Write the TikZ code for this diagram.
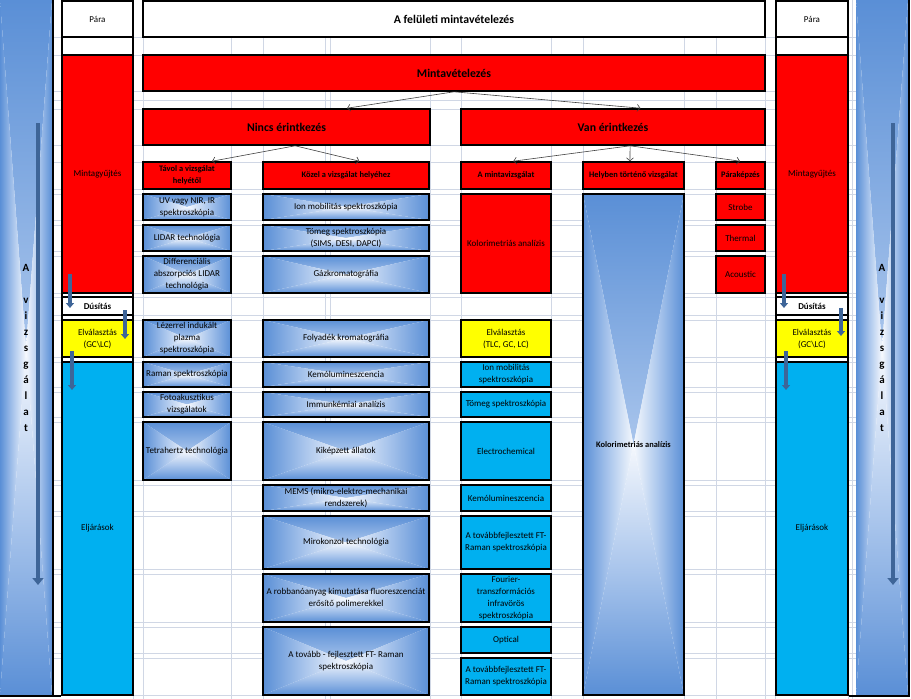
\documentclass[tikz,border=0pt]{standalone}
\usepackage{fontspec}
\setmainfont{Carlito}
\usetikzlibrary{arrows.meta,calc}

\definecolor{xred}{HTML}{FF0000}
\definecolor{xyellow}{HTML}{FFFF00}
\definecolor{xcyan}{HTML}{00B0F0}
\definecolor{gblue}{HTML}{5A8FD6}
\definecolor{gwhite}{HTML}{F5F8FD}
\definecolor{gmid}{HTML}{A9C5EC}
\definecolor{gridc}{HTML}{D0D7E5}
\definecolor{arrowc}{HTML}{3E6598}

% four unrotated shadings for the blue cells
\pgfdeclareverticalshading{gtop}{100bp}{color(0bp)=(gwhite); color(25bp)=(gwhite); color(50bp)=(gmid); color(75bp)=(gblue); color(100bp)=(gblue)}
\pgfdeclareverticalshading{gbot}{100bp}{color(0bp)=(gblue); color(25bp)=(gblue); color(50bp)=(gmid); color(75bp)=(gwhite); color(100bp)=(gwhite)}
\pgfdeclarehorizontalshading{gleft}{100bp}{color(0bp)=(gblue); color(25bp)=(gblue); color(50bp)=(gmid); color(75bp)=(gwhite); color(100bp)=(gwhite)}
\pgfdeclarehorizontalshading{gright}{100bp}{color(0bp)=(gwhite); color(25bp)=(gwhite); color(50bp)=(gmid); color(75bp)=(gblue); color(100bp)=(gblue)}

% cell given by its corners: style, name, x1, y1, x2, y2, text
\newcommand{\cellat}[7]{\node[#1,minimum width={#5-#3},minimum height={#6-#4}] (#2) at ({(#3+#5)/2},{(#4+#6)/2}) {#7};}

\begin{document}
\begin{tikzpicture}[x=1pt,y=-1pt,
  cell/.style={draw=black,line width=1.6pt,inner sep=0.5pt,align=center,text=black,font=\fontsize{9}{12}\selectfont},
  whitec/.style={cell,fill=white},
  redc/.style={cell,fill=xred},
  yellowc/.style={cell,fill=xyellow},
  cyanc/.style={cell,fill=xcyan},
  gradc/.style={cell,path picture={
    \shade[shading=gtop] (path picture bounding box.north west) -- (path picture bounding box.north east) -- (path picture bounding box.center) -- cycle;
    \shade[shading=gbot] (path picture bounding box.south west) -- (path picture bounding box.south east) -- (path picture bounding box.center) -- cycle;
    \shade[shading=gleft] (path picture bounding box.north west) -- (path picture bounding box.south west) -- (path picture bounding box.center) -- cycle;
    \shade[shading=gright] (path picture bounding box.north east) -- (path picture bounding box.south east) -- (path picture bounding box.center) -- cycle;}},
  bandc/.style={gradc,draw=none,font=\fontsize{11}{16}\selectfont\bfseries},
  headtxt/.style={font=\fontsize{11.8}{13}\selectfont\bfseries},
  subtxt/.style={font=\fontsize{8.4}{12}\selectfont\bfseries},
  dustxt/.style={font=\fontsize{9}{12}\selectfont\bfseries},
  frame/.style={draw=black,line width=1.6pt},
  gridline/.style={draw=gridc,line width=0.6pt},
  conn/.style={draw=black!75,line width=0.6pt,-{Straight Barb[length=3pt,width=7pt]}},
  bigarrow/.style={draw=arrowc,line width=4.5pt,-{Triangle[length=7pt,width=11pt]}},
  smallarrow/.style={draw=arrowc,line width=3.5pt,-{Triangle[length=5pt,width=8pt]}}]
\useasboundingbox (0,0) rectangle (911,699);

% spreadsheet grid
\foreach \gx in {133,143,231,263,325,330,430,461,551,583,684,716,765,775,848,852}
  \draw[gridline] (\gx,0) -- (\gx,699);
\foreach \gy in {37,55,91,100,109,145,162,189,194,220,225,251,256,293,297,315,320,357,362,387,392,417,422,480,485,511,516,569,574,622,627,653,658,695}
  \draw[gridline] (52,\gy) -- (856,\gy);

% side bands
\cellat{bandc}{lband}{0}{0}{52}{695}{A\\[16pt]v\\i\\z\\s\\g\\á\\l\\a\\t}
\cellat{bandc}{rband}{856}{0}{908}{695}{A\\[16pt]v\\i\\z\\s\\g\\á\\l\\a\\t}
\draw[bigarrow] (38,123) -- (38,585);
\draw[bigarrow] (893,123) -- (893,585);

% left column
\draw[frame,fill=white] (62,1) rectangle (133,695);
\cellat{whitec}{lpara}{62}{1}{133}{37}{Pára}
\cellat{redc}{lminta}{62}{55}{133}{293}{Mintagyűjtés}
\cellat{whitec,dustxt}{ldus}{62}{297}{133}{315}{Dúsítás}
\cellat{yellowc}{lelv}{62}{320}{133}{357}{Elválasztás\\(GC\textbackslash LC)}
\cellat{cyanc}{leljar}{62}{362}{133}{695}{Eljárások}
\draw[frame] (lband.north east) -- (lband.south east) -- (lband.south west);
\draw[frame] (lband.south east) -- (leljar.south west);
\draw[smallarrow] (70,274) -- (70,308);
\draw[smallarrow] (125,310) -- (125,339);
\draw[smallarrow] (72,351) -- (72,390);

% right column
\draw[frame,fill=white] (776,1) rectangle (848,695);
\cellat{whitec}{rpara}{776}{1}{848}{37}{Pára}
\cellat{redc}{rminta}{776}{55}{848}{293}{Mintagyűjtés}
\cellat{whitec,dustxt}{rdus}{776}{297}{848}{315}{Dúsítás}
\cellat{yellowc}{relv}{776}{320}{848}{357}{Elválasztás\\(GC\textbackslash LC)}
\cellat{cyanc}{reljar}{776}{362}{848}{695}{Eljárások}
\draw[frame] (rband.north east) -- (rband.south east) -- (reljar.south east);
\draw[smallarrow] (784,274) -- (784,308);
\draw[smallarrow] (841,308) -- (841,336);
\draw[smallarrow] (786,351) -- (786,390);

% headings
\cellat{whitec,headtxt}{title}{143}{1}{765}{37}{A felületi mintavételezés}
\cellat{redc,headtxt}{mintav}{143}{55}{765}{91}{Mintavételezés}
\cellat{redc,headtxt}{nincs}{143}{109}{430}{145}{Nincs érintkezés}
\cellat{redc,headtxt}{van}{461}{109}{765}{145}{Van érintkezés}
\cellat{redc,subtxt}{tavol}{143}{162}{231}{189}{Távol a vizsgálat\\helyétől}
\cellat{redc,subtxt}{kozel}{263}{162}{429}{189}{Közel a vizsgálat helyéhez}
\cellat{redc,subtxt}{mintavizsg}{461}{162}{551}{189}{A mintavizsgálat}
\cellat{redc,subtxt}{helyben}{583}{162}{684}{189}{Helyben történő vizsgálat}
\cellat{redc,subtxt}{parak}{716}{162}{765}{189}{Páraképzés}

\draw[conn] (mintav.south) -- ($(nincs.north west)!0.71!(nincs.north east)$);
\draw[conn] (mintav.south) -- ($(van.north west)!0.59!(van.north east)$);
\draw[conn] ($(nincs.south west)!0.53!(nincs.south east)$) -- ($(tavol.north west)!0.78!(tavol.north east)$);
\draw[conn] ($(nincs.south west)!0.53!(nincs.south east)$) -- ($(kozel.north west)!0.58!(kozel.north east)$);
\draw[conn] ($(van.south west)!0.556!(van.south east)$) -- ($(mintavizsg.north west)!0.58!(mintavizsg.north east)$);
\draw[conn] ($(van.south west)!0.556!(van.south east)$) -- ($(helyben.north west)!0.465!(helyben.north east)$);
\draw[conn] ($(van.south west)!0.556!(van.south east)$) -- ($(parak.north west)!0.49!(parak.north east)$);

% tavol a vizsgalat helyetol
\cellat{gradc}{uvnir}{143}{194}{231}{220}{UV vagy NIR, IR\\spektroszkópia}
\cellat{gradc}{lidar}{143}{225}{231}{251}{LIDAR technológia}
\cellat{gradc}{diflidar}{143}{256}{231}{293}{Differenciális\\abszorpciós LIDAR\\technológia}
\cellat{gradc}{libs}{143}{320}{231}{357}{Lézerrel indukált\\plazma\\spektroszkópia}
\cellat{gradc}{raman}{143}{362}{231}{387}{Raman spektroszkópia}
\cellat{gradc}{fotoak}{143}{392}{231}{417}{Fotoakusztikus\\vizsgálatok}
\cellat{gradc}{tetra}{143}{422}{231}{480}{Tetrahertz technológia}

% kozel a vizsgalat helyehez
\cellat{gradc}{ionmob}{263}{194}{429}{220}{Ion mobilitás spektroszkópia}
\cellat{gradc}{tomeg}{263}{225}{429}{251}{Tömeg spektroszkópia\\(SIMS, DESI, DAPCI)}
\cellat{gradc}{gazkrom}{263}{256}{429}{293}{Gázkromatográfia}
\cellat{gradc}{folyad}{263}{320}{429}{357}{Folyadék kromatográfia}
\cellat{gradc}{kemolum}{263}{362}{429}{387}{Kemólumineszcencia}
\cellat{gradc}{immun}{263}{392}{429}{417}{Immunkémiai analízis}
\cellat{gradc}{allatok}{263}{422}{429}{480}{Kiképzett állatok}
\cellat{gradc}{mems}{263}{485}{429}{511}{MEMS (mikro-elektro-mechanikai\\rendszerek)}
\cellat{gradc}{mirok}{263}{516}{429}{569}{Mirokonzol technológia}
\cellat{gradc}{robban}{263}{574}{429}{622}{A robbanóanyag kimutatása fluoreszcenciát\\erősítő polimerekkel}
\cellat{gradc}{ftraman}{263}{627}{429}{695}{A tovább - fejlesztett FT- Raman\\spektroszkópia}

% a mintavizsgalat
\cellat{redc}{kolor}{461}{194}{551}{293}{Kolorimetriás analízis}
\cellat{yellowc}{elvm}{461}{320}{551}{357}{Elválasztás\\(TLC, GC, LC)}
\cellat{cyanc}{ionmobm}{461}{362}{551}{387}{Ion mobilitás\\spektroszkópia}
\cellat{cyanc}{tomegm}{461}{392}{551}{417}{Tömeg spektroszkópia}
\cellat{cyanc}{electro}{461}{422}{551}{480}{Electrochemical}
\cellat{cyanc}{kemolumm}{461}{485}{551}{511}{Kemólumineszcencia}
\cellat{cyanc}{ftramanm}{461}{516}{551}{569}{A továbbfejlesztett FT-\\Raman spektroszkópia}
\cellat{cyanc}{ftir}{461}{574}{551}{622}{Fourier-\\transzformációs\\infravörös\\spektroszkópia}
\cellat{cyanc}{optical}{461}{627}{551}{653}{Optical}
\cellat{cyanc}{ftramanm2}{461}{658}{551}{695}{A továbbfejlesztett FT-\\Raman spektroszkópia}

% helyben
\cellat{gradc,subtxt}{kolorh}{583}{194}{684}{695}{Kolorimetriás analízis}

% parakepzes
\cellat{redc}{strobe}{716}{194}{765}{220}{Strobe}
\cellat{redc}{thermal}{716}{225}{765}{251}{Thermal}
\cellat{redc}{acoustic}{716}{256}{765}{293}{Acoustic}
\end{tikzpicture}
\end{document}
